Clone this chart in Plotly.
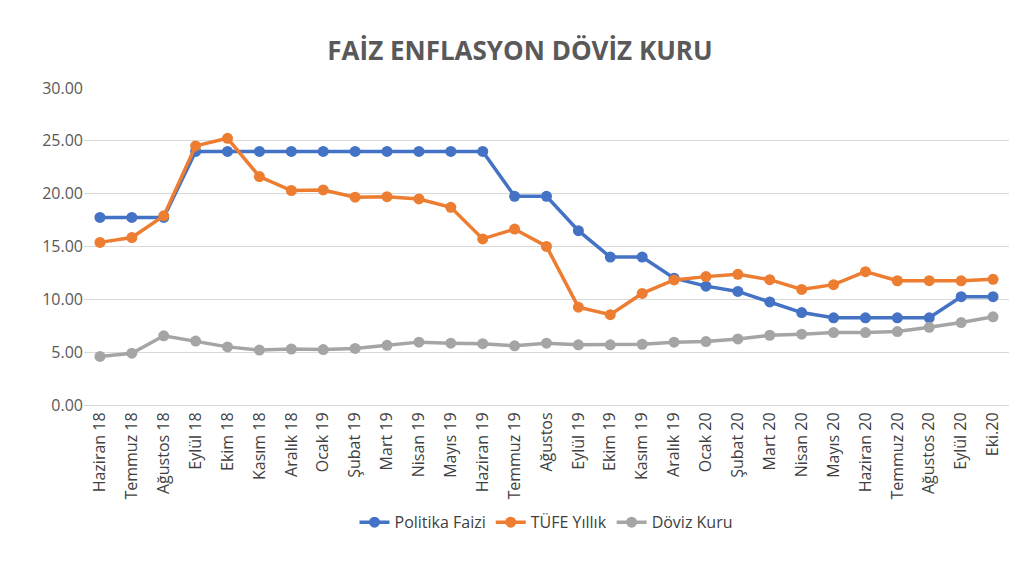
import plotly.graph_objects as go

months = ["Haziran 18", "Temmuz 18", "Ağustos 18", "Eylül 18", "Ekim 18", "Kasım 18",
          "Aralık 18", "Ocak 19", "Şubat 19", "Mart 19", "Nisan 19", "Mayıs 19",
          "Haziran 19", "Temmuz 19", "Ağustos", "Eylül 19", "Ekim 19", "Kasım 19",
          "Aralık 19", "Ocak 20", "Şubat 20", "Mart 20", "Nisan 20", "Mayıs 20",
          "Haziran 20", "Temmuz 20", "Ağustos 20", "Eylül 20", "Eki.20"]

politika_faizi = [17.75, 17.75, 17.75, 24, 24, 24, 24, 24, 24, 24, 24, 24, 24,
                  19.75, 19.75, 16.5, 14, 14, 12, 11.25, 10.75, 9.75, 8.75, 8.25,
                  8.25, 8.25, 8.25, 10.25, 10.25]
tufe_yillik = [15.39, 15.85, 17.9, 24.52, 25.24, 21.62, 20.3, 20.35, 19.67, 19.71,
               19.5, 18.71, 15.72, 16.65, 15.01, 9.26, 8.55, 10.56, 11.84, 12.15,
               12.37, 11.86, 10.94, 11.39, 12.62, 11.76, 11.77, 11.75, 11.89]
doviz_kuru = [4.6, 4.9, 6.55, 6.05, 5.5, 5.2, 5.3, 5.25, 5.35, 5.65, 5.95, 5.85,
              5.8, 5.6, 5.85, 5.7, 5.7, 5.75, 5.95, 6.0, 6.25, 6.6, 6.7, 6.85,
              6.85, 6.95, 7.35, 7.8, 8.35]

series = [("Politika Faizi", politika_faizi, "#4472C4"),
          ("TÜFE Yıllık", tufe_yillik, "#ED7D31"),
          ("Döviz Kuru", doviz_kuru, "#A5A5A5")]

fig = go.Figure()
for name, vals, col in series:
    fig.add_trace(go.Scatter(x=months, y=vals, name=name, mode="lines+markers",
                             line=dict(color=col, width=3.5),
                             marker=dict(color=col, size=11)))

fig.update_layout(
    width=1024, height=569,
    paper_bgcolor="white", plot_bgcolor="white",
    font=dict(family="Open Sans, DejaVu Sans", color="#595959", size=16),
    title=dict(text="<b>FAİZ ENFLASYON DÖVİZ KURU</b>", x=0.5, xanchor="center",
               y=0.94, font=dict(size=26, color="#595959")),
    margin=dict(l=76, r=23, t=80, b=172),
    legend=dict(orientation="h", x=0.5, xanchor="center", y=-0.37, yanchor="middle",
                font=dict(size=16, color="#404040")),
    xaxis=dict(tickangle=-90, showgrid=False, showline=True, linecolor="#D9D9D9",
               range=[-0.5, len(months) - 0.5], automargin=False,
               tickfont=dict(size=16, color="#404040")),
    yaxis=dict(range=[0, 30], dtick=5, tickformat=".2f", gridcolor="#D9D9D9",
               zeroline=False, automargin=False,
               tickfont=dict(size=16, color="#595959")),
)

fig.write_html("out.html")
